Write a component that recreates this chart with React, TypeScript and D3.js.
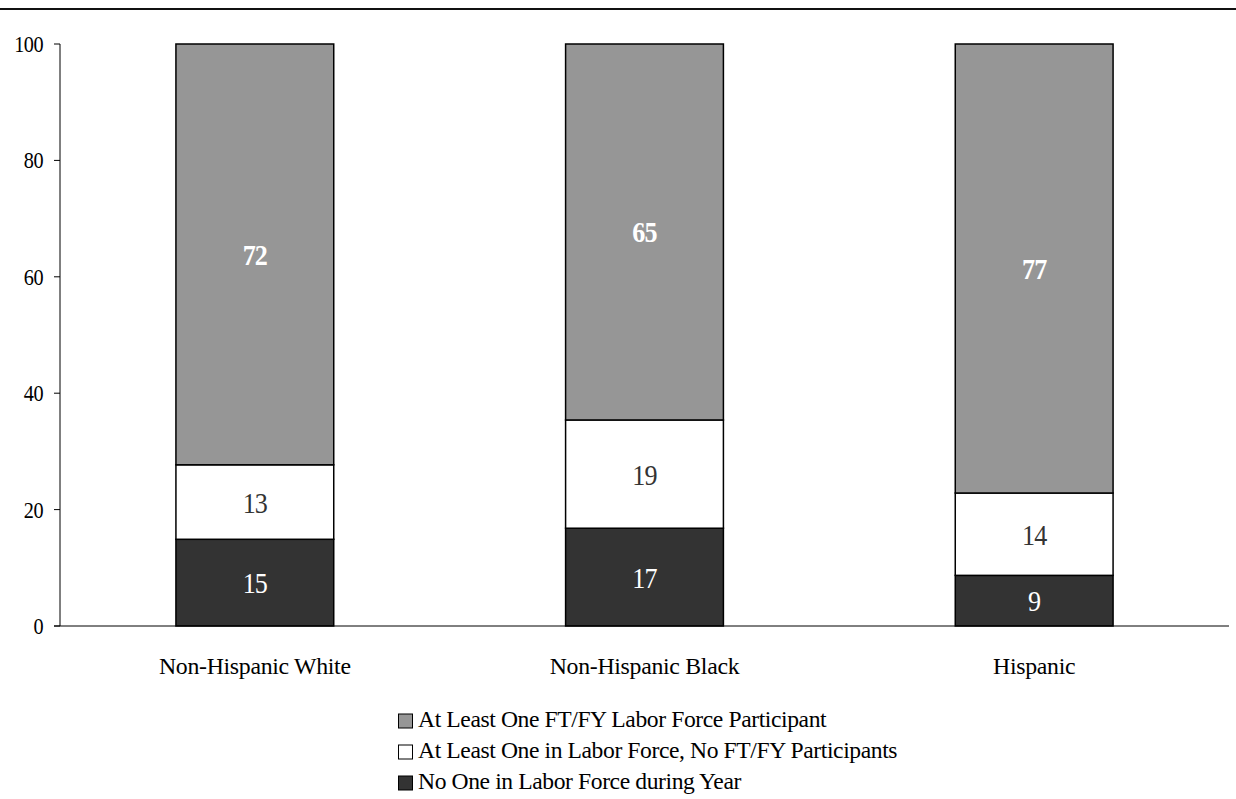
import React from "react";
import * as d3 from "d3";

// Household labor force attachment by race/ethnicity (percent)
const categories = ["Non-Hispanic White", "Non-Hispanic Black", "Hispanic"];
const seriesNames = [
  "No One in Labor Force during Year",
  "At Least One in Labor Force, No FT/FY Participants",
  "At Least One FT/FY Labor Force Participant",
];
const noOneInLaborForce = [14.9, 16.8, 8.7];
const someLaborForceNoFTFY = [12.8, 18.6, 14.15];
const atLeastOneFTFY = [72.3, 64.6, 77.15];
const yTicks = [0, 20, 40, 60, 80, 100];

const seriesValues = [noOneInLaborForce, someLaborForceNoFTFY, atLeastOneFTFY];
const fills = ["#333333", "#ffffff", "#969696"];
const labelColors = ["#ffffff", "#333333", "#ffffff"];
const labelWeights = ["normal", "normal", "bold"];

const W = 1236;
const H = 799;
const left = 60;
const right = 1229;
const top = 44;
const bottom = 626;
const serif = "'Liberation Serif', 'Times New Roman', serif";

export default function App() {
  const x = d3
    .scaleBand<string>()
    .domain(categories)
    .range([left, right])
    .paddingInner(0.595)
    .paddingOuter(0.2975);
  const y = d3.scaleLinear().domain([0, 100]).range([bottom, top]);

  const rows = categories.map((c, i) => {
    const r: any = { category: c };
    seriesNames.forEach((s, k) => (r[s] = seriesValues[k][i]));
    return r;
  });
  const stacked = d3.stack<any>().keys(seriesNames)(rows);
  const fmt = d3.format(".0f");

  // legend lists the top segment first
  const legendOrder = [2, 1, 0];

  return (
    <svg
      width={W}
      height={H}
      style={{ position: "absolute", left: 0, top: 0, background: "#fff" }}
      fontFamily={serif}
    >
      <line x1={0} x2={W} y1={9} y2={9} stroke="#111" strokeWidth={2} />

      {/* y axis */}
      <line x1={left} x2={left} y1={top} y2={bottom} stroke="#000" strokeWidth={1} />
      {yTicks.map((t) => (
        <g key={t}>
          <line x1={left - 6} x2={left} y1={y(t)} y2={y(t)} stroke="#000" strokeWidth={1} />
          <text
            transform={`translate(43, ${y(t)}) scale(0.88, 1)`}
            dy="0.35em"
            textAnchor="end"
            fontSize={23}
            letterSpacing={-0.6}
            fill="#000"
          >
            {t}
          </text>
        </g>
      ))}

      {/* bars */}
      {stacked.map((layer, k) =>
        layer.map((d, i) => {
          const x0 = x(categories[i]) as number;
          const bw = x.bandwidth();
          const yTop = y(d[1]);
          const yBot = y(d[0]);
          return (
            <g key={`${k}-${i}`}>
              <rect
                x={x0}
                y={yTop}
                width={bw}
                height={yBot - yTop}
                fill={fills[k]}
                stroke="#000"
                strokeWidth={1.5}
              />
              <text
                transform={`translate(${x0 + bw / 2}, ${(yTop + yBot) / 2}) scale(0.87, 1)`}
                dy="0.35em"
                textAnchor="middle"
                fontSize={30}
                letterSpacing={-1}
                fontWeight={labelWeights[k]}
                fill={labelColors[k]}
              >
                {fmt(seriesValues[k][i])}
              </text>
            </g>
          );
        })
      )}

      {/* x axis */}
      <line x1={left - 6} x2={right} y1={bottom} y2={bottom} stroke="#000" strokeWidth={1} />
      {categories.map((c) => (
        <text
          key={c}
          x={(x(c) as number) + x.bandwidth() / 2}
          y={674}
          textAnchor="middle"
          fontSize={23.8}
          letterSpacing={-0.3}
          fill="#000"
        >
          {c}
        </text>
      ))}

      {/* legend */}
      {legendOrder.map((k, j) => (
        <g key={k} transform={`translate(398, ${727 + j * 31})`}>
          <rect x={0.5} y={-13} width={14} height={14} fill={fills[k]} stroke="#000" strokeWidth={1} />
          <text x={20} y={0} fontSize={23.6} letterSpacing={-0.4} fill="#000">
            {seriesNames[k]}
          </text>
        </g>
      ))}
    </svg>
  );
}
